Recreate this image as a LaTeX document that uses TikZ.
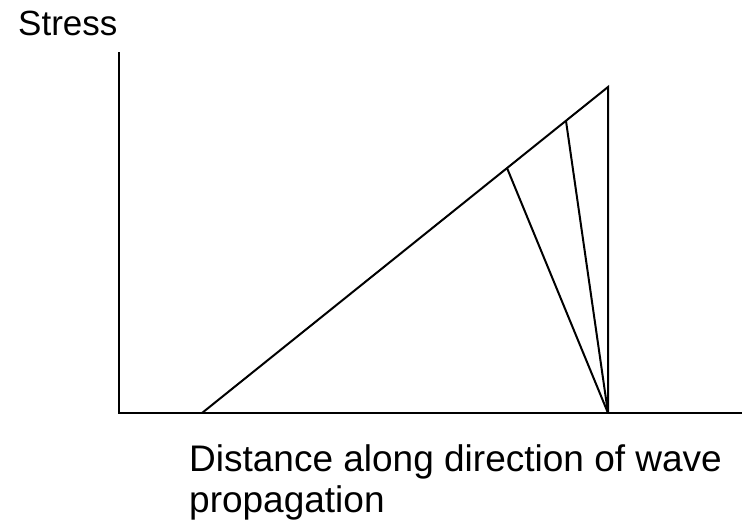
\documentclass[tikz,border=0pt]{standalone}
\usepackage{fontspec}
\setmainfont{Liberation Sans}
\begin{document}
\begin{tikzpicture}[x=1pt,y=-1pt,
  ln/.style={line width=2pt, line cap=butt},
  lbl/.style={inner sep=0pt, anchor=base west, font=\fontsize{37}{43}\selectfont}]
\useasboundingbox (0,0) rectangle (746,525);
\coordinate (ytop) at (119,52);
\coordinate (origin) at (119,413);
\coordinate (xend) at (742,413);
\coordinate (start) at (202,413);
\coordinate (apex) at (608,87);
\coordinate (foot) at (608,413);
\coordinate (p1) at (507,168);
\coordinate (p2) at (566,121);
\draw[ln] (ytop) -- (origin) -- (xend);
\draw[ln] (start) -- (apex) -- (foot);
\draw[ln] (foot) -- (p1);
\draw[ln] (foot) -- (p2);
\node[lbl, font=\fontsize{35}{40}\selectfont] (ylab) at (18,35) {Stress};
\node[lbl] (xlab1) at (189,471) {Distance along direction of wave};
\node[lbl] (xlab2) at (189,512) {propagation};
\end{tikzpicture}
\end{document}
